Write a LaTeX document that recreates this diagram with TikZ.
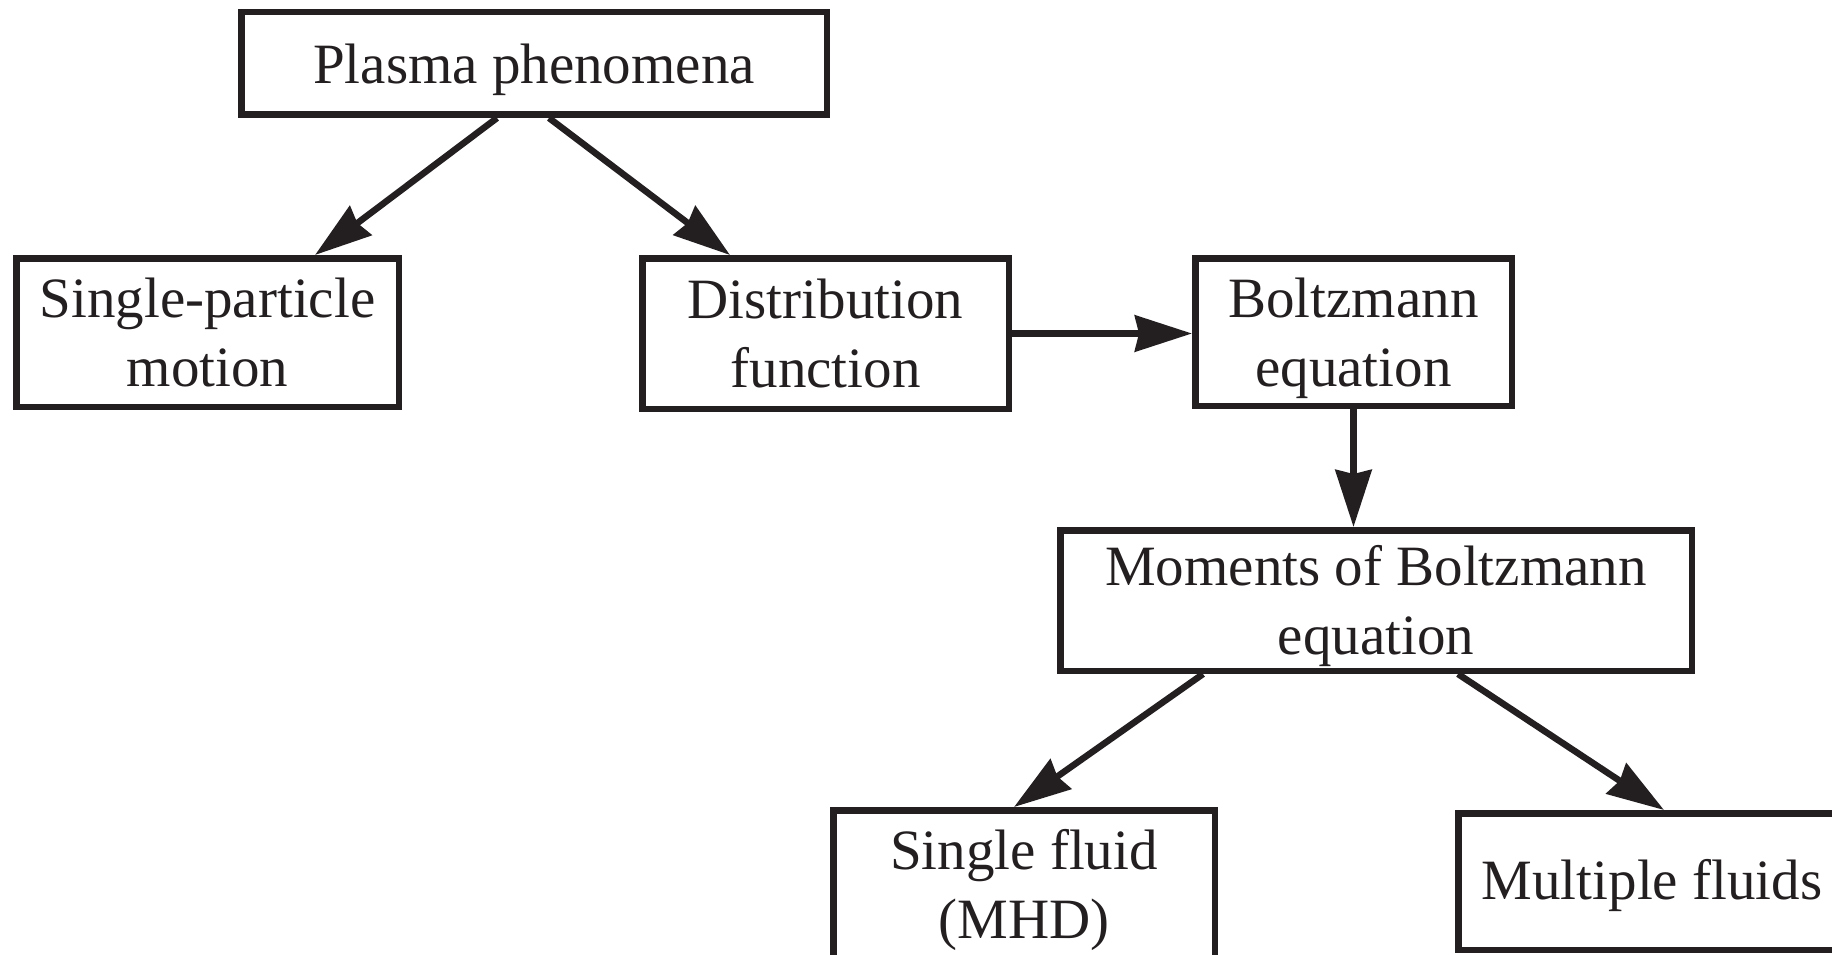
\documentclass[tikz,border=0pt]{standalone}
\usepackage{fontspec}
\setmainfont{Liberation Serif}
\usetikzlibrary{arrows.meta}
\definecolor{ink}{HTML}{231F20}
\newcommand\bx[1]{\raisebox{-6pt}[\height][\depth]{\begin{tabular}{@{}c@{}}#1\end{tabular}}}
\begin{document}
\begin{tikzpicture}[x=1pt,y=-1pt,
  box/.style={draw=ink, line width=6.5pt, text=ink, inner sep=0pt,
    font=\fontsize{57}{69}\selectfont},
  arr/.style={draw=ink, line width=6.5pt, -{Stealth[length=57pt,width=36pt,inset=4pt]}}]
\useasboundingbox (0,0) rectangle (1832,955);
\clip (0,0) rectangle (1832,955);
\node[box, minimum width=585.5pt, minimum height=102.5pt] (pp) at (534,63.5) {\bx{Plasma phenomena}};
\node[box, minimum width=382.5pt, minimum height=148.5pt] (sp) at (207.5,332.5) {\bx{Single-particle\\motion}};
\node[box, minimum width=366.5pt, minimum height=150.5pt] (df) at (825.5,333.5) {\bx{Distribution\\function}};
\node[box, minimum width=316.5pt, minimum height=147.5pt] (be) at (1353.5,332) {\bx{Boltzmann\\equation}};
\node[box, minimum width=631.5pt, minimum height=140.5pt] (mo) at (1376,600.5) {\raisebox{3pt}{\bx{Moments of Boltzmann\\equation}}};
\node[box, minimum width=381.5pt, minimum height=148.5pt] (sf) at (1024,884.5) {\bx{Single fluid\\(MHD)}};
\node[box, minimum width=387.5pt, minimum height=136.5pt] (mf) at (1652,881.5) {\raisebox{2pt}[\height][\depth]{\bx{Multiple fluids}}};
\draw[arr] ([xshift=-37pt]pp.south) -- ([xshift=107.5pt]sp.north);
\draw[arr] ([xshift=15pt]pp.south) -- ([xshift=-95.5pt]df.north);
\draw[arr] (df.east) -- (df.east -| be.west);
\draw[arr] (be.south) -- (be.south |- mo.north);
\draw[arr] ([xshift=-173pt]mo.south) -- ([xshift=-10pt]sf.north);
\draw[arr] ([xshift=82pt]mo.south) -- ([xshift=12pt]mf.north);
\end{tikzpicture}
\end{document}
